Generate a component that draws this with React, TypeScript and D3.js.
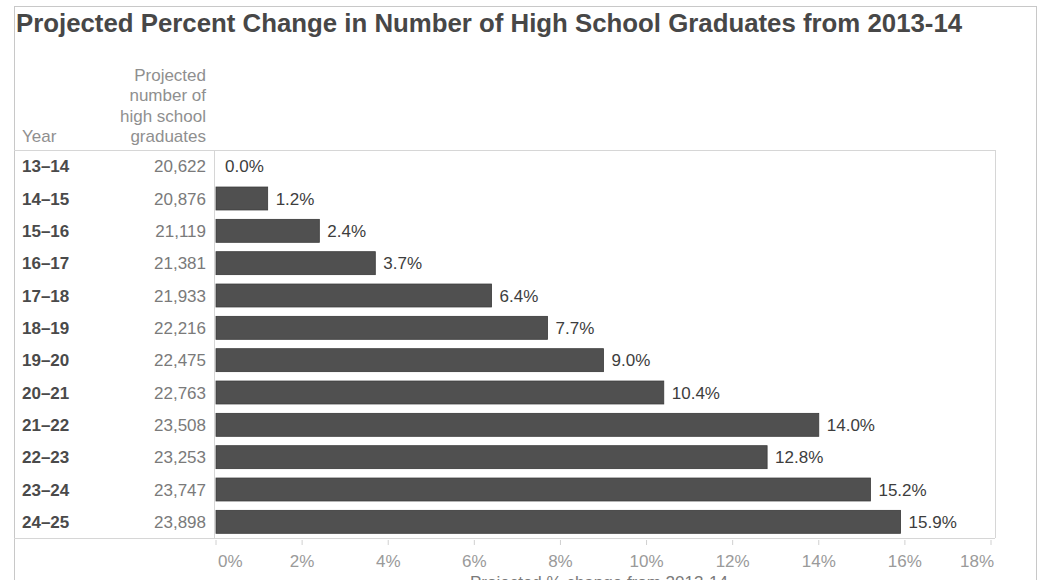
import React from "react";
import * as d3 from "d3";

const years = ["13–14", "14–15", "15–16", "16–17", "17–18", "18–19", "19–20", "20–21", "21–22", "22–23", "23–24", "24–25"];
const graduates = [20622, 20876, 21119, 21381, 21933, 22216, 22475, 22763, 23508, 23253, 23747, 23898];
const pctChange = [0.0, 1.2, 2.4, 3.7, 6.4, 7.7, 9.0, 10.4, 14.0, 12.8, 15.2, 15.9];
const xTicks = [0, 2, 4, 6, 8, 10, 12, 14, 16, 18];
const headerLines = ["Projected", "number of", "high school", "graduates"];

const W = 1042;
const H = 580;
const plotLeft = 214;
const plotRight = 995;
const plotTop = 150;
const plotBottom = 538;
const font = "Arial, 'Liberation Sans', sans-serif";
const fs = 17;

export default function App() {
  const x = d3.scaleLinear().domain([0, 18]).range([216, 991]);
  const y = d3.scaleBand<string>().domain(years).range([plotTop, plotBottom]).paddingInner(0.29).paddingOuter(0.145);
  const fmtNum = d3.format(",");
  const fmtPct = (v: number) => d3.format(".1f")(v) + "%";

  return (
    <>
      <style>{`body{margin:0}`}</style>
      <svg width={W} height={H} style={{ display: "block", background: "#fff" }} fontFamily={font}>
        {/* outer frame */}
        <rect x={14.5} y={6.5} width={1022} height={600} fill="none" stroke="#c8c8c8" strokeWidth={1} />
        {/* title */}
        <text x={16} y={32} fontSize={25.8} fontWeight="bold" fill="#474747">
          Projected Percent Change in Number of High School Graduates from 2013-14
        </text>
        {/* column headers */}
        <text x={22} y={142} fontSize={fs} fill="#8f8f8f">Year</text>
        {headerLines.map((t, i) => (
          <text key={t} x={206} y={81 + i * 20.3} fontSize={fs} fill="#8f8f8f" textAnchor="end">{t}</text>
        ))}
        {/* table lines */}
        <line x1={14} x2={plotRight} y1={plotTop + 0.5} y2={plotTop + 0.5} stroke="#d6d6d6" />
        <line x1={14} x2={plotRight} y1={plotBottom + 0.5} y2={plotBottom + 0.5} stroke="#d6d6d6" />
        <line x1={plotLeft + 0.5} x2={plotLeft + 0.5} y1={plotTop} y2={plotBottom} stroke="#d6d6d6" />
        <line x1={plotRight + 0.5} x2={plotRight + 0.5} y1={plotTop} y2={plotBottom} stroke="#d6d6d6" />
        {/* rows */}
        {years.map((yr, i) => {
          const yc = (y(yr) as number) + y.bandwidth() / 2;
          const v = pctChange[i];
          return (
            <g key={yr}>
              <text x={22} y={yc + 6} fontSize={fs} fontWeight="bold" fill="#4a4a4a">{yr}</text>
              <text x={206} y={yc + 6} fontSize={fs} fill="#7a7a7a" textAnchor="end">{fmtNum(graduates[i])}</text>
              {v > 0 && (
                <rect x={x(0)} y={y(yr)} width={x(v) - x(0)} height={y.bandwidth()} fill="#505050" stroke="#3a3a3a" strokeWidth={0.8} />
              )}
              <text x={x(v) + (v > 0 ? 8 : 9)} y={yc + 6} fontSize={fs} fill="#3d3d3d">{fmtPct(v)}</text>
            </g>
          );
        })}
        {/* x axis */}
        {xTicks.map((t, i) => {
          const anchor = i === 0 ? "start" : i === xTicks.length - 1 ? "end" : "middle";
          const lx = i === 0 ? x(t) + 2 : i === xTicks.length - 1 ? x(t) + 3 : x(t);
          return (
            <g key={t}>
              <line x1={x(t)} x2={x(t)} y1={plotBottom + 2} y2={plotBottom + 7} stroke="#d0d0d0" />
              <text x={lx} y={567} fontSize={fs} fill="#9a9a9a" textAnchor={anchor}>{t}%</text>
            </g>
          );
        })}
        <text x={470} y={588} fontSize={fs} fill="#7a7a7a">Projected % change from 2013-14</text>
      </svg>
    </>
  );
}
